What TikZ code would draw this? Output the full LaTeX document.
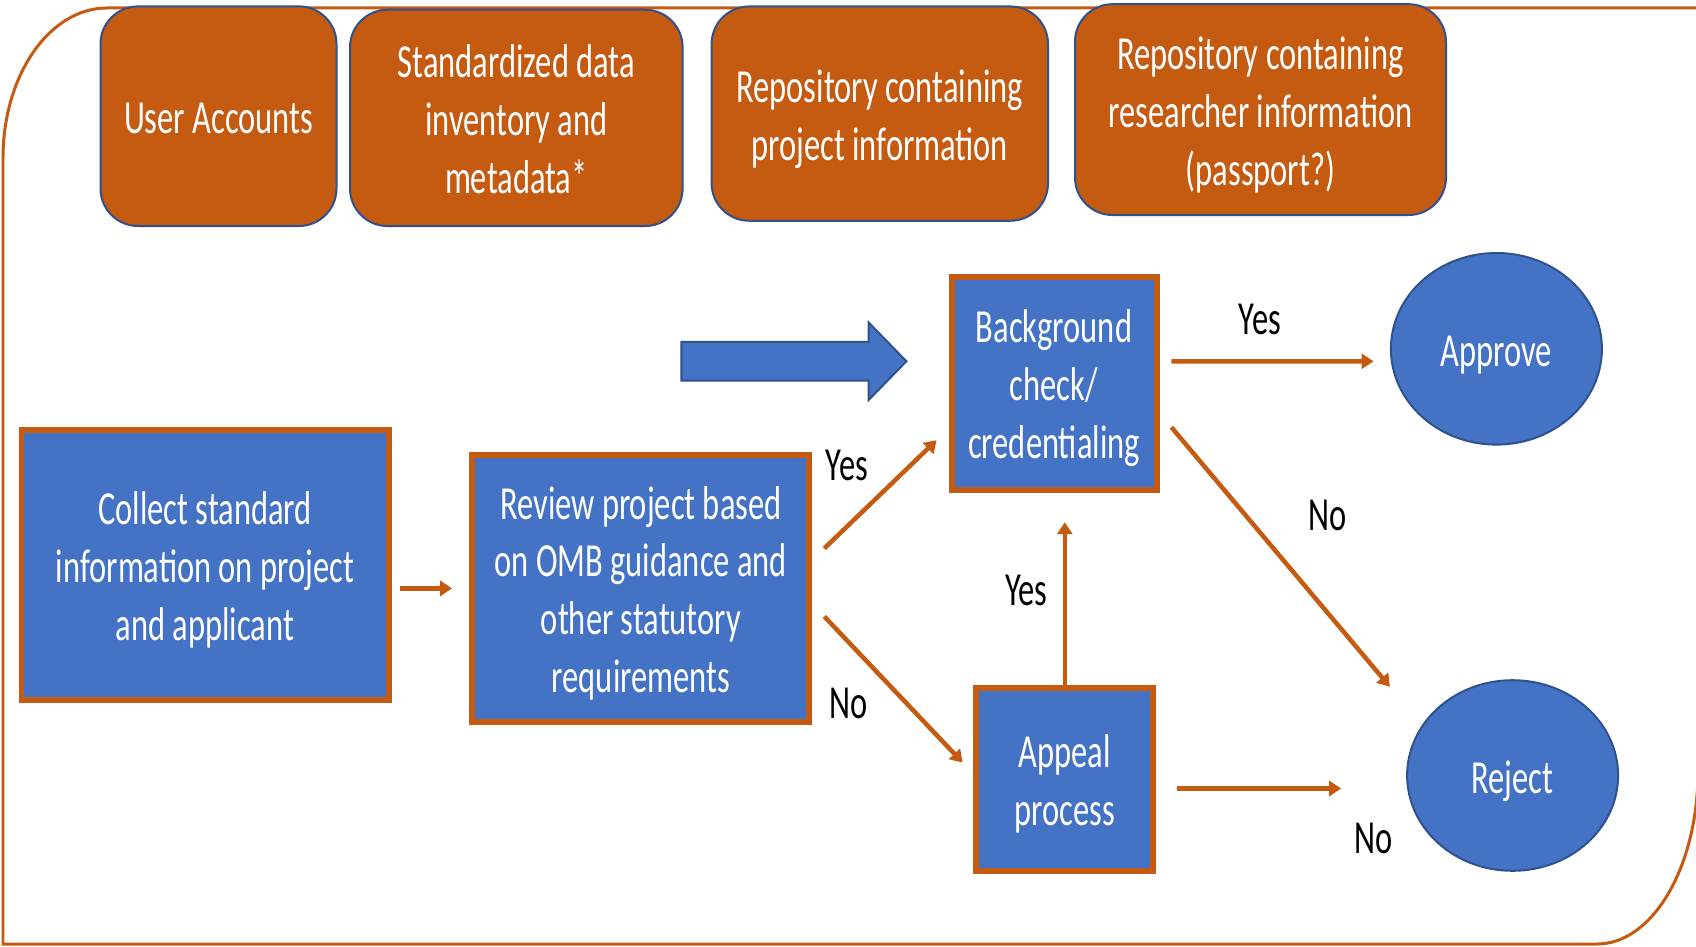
\documentclass[tikz,border=0pt]{standalone}
\usepackage{fontspec}
\setmainfont{Carlito}[FakeStretch=0.685]
\usetikzlibrary{arrows.meta,calc,shapes.geometric}
\definecolor{orng}{HTML}{C55A11}
\definecolor{blu}{HTML}{4472C4}
\definecolor{dblu}{HTML}{2F528F}
\newcommand{\upx}{0.02cm}
\newcommand{\tst}{\rule{0pt}{26.5pt}}
\newcommand{\bst}{\rule[-6.5pt]{0pt}{6.5pt}}
\begin{document}
\begin{tikzpicture}[x=0.02cm,y=-0.02cm,
  every node/.style={font=\fontsize{27}{33}\selectfont, align=center, inner sep=0pt},
  topbox/.style={draw=dblu, fill=orng, line width=0.04cm, rounded corners=0.75cm, text=white},
  procbox/.style={draw=orng, fill=blu, line width=0.12cm, text=white},
  endnode/.style={ellipse, draw=dblu, fill=blu, line width=0.04cm, text=white},
  arr/.style={draw=orng, line width=0.09cm, -{Triangle[length=0.24cm,width=0.3cm]}},
  lbl/.style={text=black}]
\useasboundingbox (0,0) rectangle (1696,946);
\fill[white] (0,0) rectangle (1696,946);
% frame
\draw[orng, line width=0.06cm] (3,944) -- (3,158)
  arc[start angle=180, end angle=270, x radius=104, y radius=150]
  -- (1698,8) -- (1698,771)
  arc[start angle=0, end angle=90, x radius=101, y radius=173] -- cycle;
% top boxes
\node[topbox, minimum width=236*\upx, minimum height=219.6*\upx] (ua) at (218.5,116.2) {\tst User Accounts\bst};
\node[topbox, minimum width=332.6*\upx, minimum height=216.3*\upx] (sd) at (516.3,117.9) {\tst Standardized data\\inventory and\\metadata*\bst};
\node[topbox, minimum width=336.4*\upx, minimum height=214.3*\upx] (rp) at (879.8,113.6) {\tst Repository containing\\project information\bst};
\node[topbox, minimum width=371*\upx, minimum height=210.8*\upx] (rr) at (1260.5,109.6) {\tst Repository containing\\researcher information\\(passport?)\bst};
% process boxes
\node[procbox, minimum width=367*\upx, minimum height=270*\upx] (collect) at (205,565) {\tst Collect standard\\information on project\\and applicant\bst};
\node[procbox, minimum width=337*\upx, minimum height=266.7*\upx] (review) at (640.9,588.4) {\tst Review project based\\on OMB guidance and\\other statutory\\requirements\bst};
\node[procbox, minimum width=205*\upx, minimum height=213.6*\upx] (bg) at (1054,383.4) {\tst Background\\check/\\credentialing\bst};
\node[procbox, minimum width=176.8*\upx, minimum height=183.3*\upx] (appeal) at (1064.8,779.4) {\tst Appeal\\process\bst};
% end nodes
\node[endnode, minimum width=211*\upx, minimum height=191.6*\upx] (approve) at (1496.4,348.8) {\tst Approve\bst};
\node[endnode, minimum width=211*\upx, minimum height=190.6*\upx] (reject) at (1512.6,775.5) {\tst Reject\bst};
% block arrow
\path[fill=blu, draw=dblu, line width=0.04cm] (681.4,341.8) -- (868.5,341.8) -- (868.5,322.3)
  -- (906.4,361.3) -- (868.5,400.2) -- (868.5,380.7) -- (681.4,380.7) -- cycle;
% connectors
\draw[arr, shorten <=8.7*\upx, shorten >=17.3*\upx] (collect.east |- review.west) -- (review.west);
\draw[arr] ([shift={(11.9,-40)}]review.east) -- ([shift={(-11.9,56.8)}]bg.west);
\draw[arr] ([shift={(11.9,28.1)}]review.east) -- ([shift={(-10.8,-16.9)}]appeal.west);
\draw[arr, shorten >=29*\upx] (appeal.north) -- (appeal.north |- bg.south);
\draw[arr] ([shift={(11.9,-22.1)}]bg.east) -- ([shift={(-16.3,12.5)}]approve.west);
\draw[arr] ([shift={(11.9,43.8)}]bg.east) -- ([shift={(-16.2,-88.7)}]reject.west);
\draw[arr] ([shift={(20.6,9.1)}]appeal.east) -- ([shift={(-64.9,13)}]reject.west);
% labels
\node[lbl] (y1) at (846.9,465.1) {Yes};
\node[lbl] (n1) at (849,703) {No};
\node[lbl] (y2) at (1026.4,590.6) {Yes};
\node[lbl] (y3) at (1260,319) {Yes};
\node[lbl] (n2) at (1327.1,515.9) {No};
\node[lbl] (n3) at (1373.6,838.2) {No};
\end{tikzpicture}
\end{document}
